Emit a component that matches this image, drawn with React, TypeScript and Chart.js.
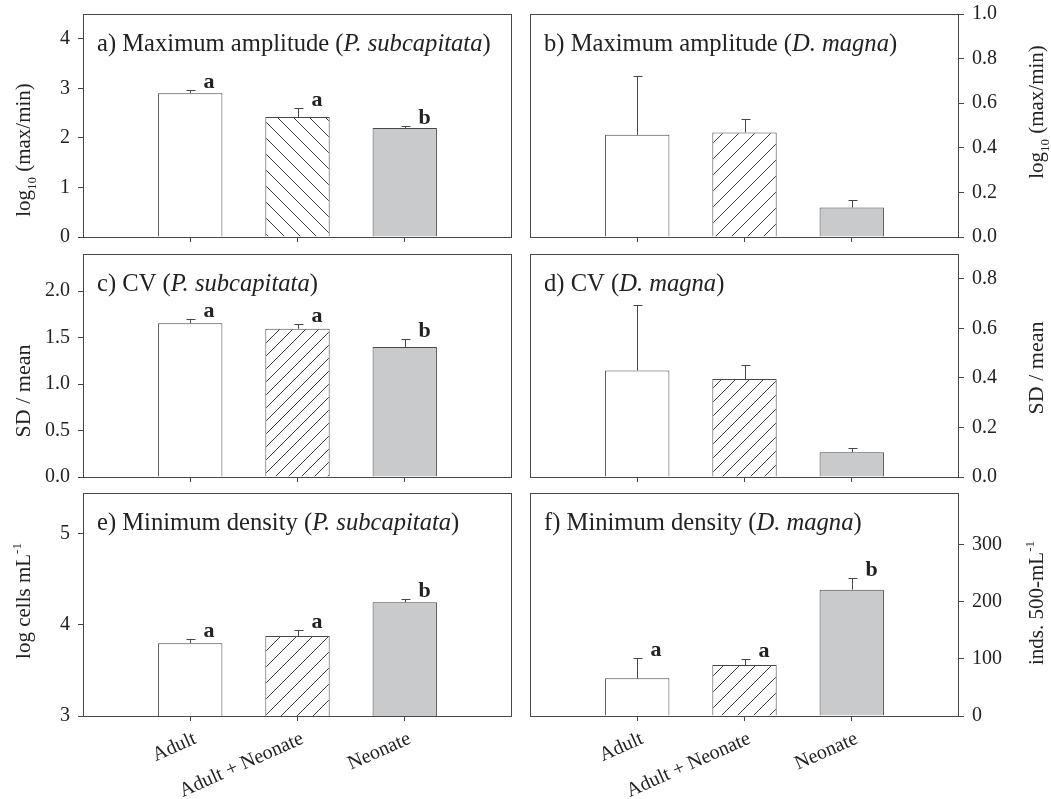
import React, { useEffect, useRef } from 'react';
import { Chart, registerables } from 'chart.js';
Chart.register(...registerables);

const SERIF = '"Liberation Serif", "Times New Roman", Times, serif';
const TEXT = '#222222';
const LINE = '#474747';
const GREY_FILL = '#c9cacc';

// ---------- data ----------
const categories = ['Adult', 'Adult + Neonate', 'Neonate'];

const ampPsValues = [2.9, 2.42, 2.2];
const ampPsErrors = [0.07, 0.18, 0.04];
const ampPsLetters = ['a', 'a', 'b'];
const ampPsTicks = [0, 1, 2, 3, 4];

const ampDmValues = [0.458, 0.469, 0.132];
const ampDmErrors = [0.262, 0.059, 0.034];
const ampDmLetters: string[] = [];
const ampDmTicks = [0, 0.2, 0.4, 0.6, 0.8, 1.0];

const cvPsValues = [1.655, 1.595, 1.4];
const cvPsErrors = [0.045, 0.055, 0.08];
const cvPsLetters = ['a', 'a', 'b'];
const cvPsTicks = [0, 0.5, 1.0, 1.5, 2.0];

const cvDmValues = [0.43, 0.396, 0.1];
const cvDmErrors = [0.266, 0.055, 0.018];
const cvDmLetters: string[] = [];
const cvDmTicks = [0, 0.2, 0.4, 0.6, 0.8];

const minPsValues = [3.8, 3.88, 4.25];
const minPsErrors = [0.05, 0.07, 0.03];
const minPsLetters = ['a', 'a', 'b'];
const minPsTicks = [3, 4, 5];

const minDmValues = [66, 89, 221];
const minDmErrors = [35, 10.5, 20.6];
const minDmLetters = ['a', 'a', 'b'];
const minDmTicks = [0, 100, 200, 300];

type Seg = { t: string; it?: boolean; sub?: boolean; sup?: boolean };

const titleA: Seg[] = [{ t: 'a) Maximum amplitude (' }, { t: 'P. subcapitata', it: true }, { t: ')' }];
const titleB: Seg[] = [{ t: 'b) Maximum amplitude (' }, { t: 'D. magna', it: true }, { t: ')' }];
const titleC: Seg[] = [{ t: 'c) CV (' }, { t: 'P. subcapitata', it: true }, { t: ')' }];
const titleD: Seg[] = [{ t: 'd) CV (' }, { t: 'D. magna', it: true }, { t: ')' }];
const titleE: Seg[] = [{ t: 'e) Minimum density (' }, { t: 'P. subcapitata', it: true }, { t: ')' }];
const titleF: Seg[] = [{ t: 'f) Minimum density (' }, { t: 'D. magna', it: true }, { t: ')' }];

const yTitleAmp: Seg[] = [{ t: 'log' }, { t: '10', sub: true }, { t: ' (max/min)' }];
const yTitleCv: Seg[] = [{ t: 'SD / mean' }];
const yTitleMinPs: Seg[] = [{ t: 'log cells mL' }, { t: '-1', sup: true }];
const yTitleMinDm: Seg[] = [{ t: 'inds. 500-mL' }, { t: '-1', sup: true }];

// ---------- layout ----------
const rowTop = [0, 245, 485];
const rowHeight = [245, 240, 314];
const plotTop = [14, 254, 493];
const plotBottom = [237, 477, 716];
const colLeft = [0, 520];
const colWidth = [520, 531];
const plotLeft = [83, 530];
const plotRight = [512, 959];
const yTitleBaseX = [30, 1043];

type PanelCfg = {
  row: number; col: number;
  values: number[]; errors: number[]; letters: string[];
  yMin: number; yMax: number; yTicks: number[]; decimals: number;
  title: Seg[]; yTitle: Seg[]; yTitleCenter: number; yTitleSize: number;
  hatchDir: '/' | '\\'; hatchGap: number;
};

const panels: PanelCfg[] = [
  { row: 0, col: 0, values: ampPsValues, errors: ampPsErrors, letters: ampPsLetters, yMin: 0, yMax: 4.5, yTicks: ampPsTicks, decimals: 0, title: titleA, yTitle: yTitleAmp, yTitleCenter: 150, yTitleSize: 21, hatchDir: '\\', hatchGap: 16 },
  { row: 0, col: 1, values: ampDmValues, errors: ampDmErrors, letters: ampDmLetters, yMin: 0, yMax: 1.0, yTicks: ampDmTicks, decimals: 1, title: titleB, yTitle: yTitleAmp, yTitleCenter: 112, yTitleSize: 21, hatchDir: '/', hatchGap: 16 },
  { row: 1, col: 0, values: cvPsValues, errors: cvPsErrors, letters: cvPsLetters, yMin: 0, yMax: 2.4, yTicks: cvPsTicks, decimals: 1, title: titleC, yTitle: yTitleCv, yTitleCenter: 391, yTitleSize: 22, hatchDir: '/', hatchGap: 13 },
  { row: 1, col: 1, values: cvDmValues, errors: cvDmErrors, letters: cvDmLetters, yMin: 0, yMax: 0.9, yTicks: cvDmTicks, decimals: 1, title: titleD, yTitle: yTitleCv, yTitleCenter: 368, yTitleSize: 22, hatchDir: '/', hatchGap: 14 },
  { row: 2, col: 0, values: minPsValues, errors: minPsErrors, letters: minPsLetters, yMin: 3, yMax: 5.45, yTicks: minPsTicks, decimals: 0, title: titleE, yTitle: yTitleMinPs, yTitleCenter: 601, yTitleSize: 21, hatchDir: '/', hatchGap: 16 },
  { row: 2, col: 1, values: minDmValues, errors: minDmErrors, letters: minDmLetters, yMin: 0, yMax: 390, yTicks: minDmTicks, decimals: 0, title: titleF, yTitle: yTitleMinDm, yTitleCenter: 603, yTitleSize: 21, hatchDir: '/', hatchGap: 16 },
];

function makeHatch(gap: number, dir: '/' | '\\') {
  const c = document.createElement('canvas');
  c.width = gap; c.height = gap;
  const g = c.getContext('2d')!;
  g.fillStyle = '#ffffff';
  g.fillRect(0, 0, gap, gap);
  g.strokeStyle = '#3a3a3a';
  g.lineWidth = 1;
  g.beginPath();
  if (dir === '/') {
    g.moveTo(-1, gap + 1); g.lineTo(gap + 1, -1);
    g.moveTo(-2, 2); g.lineTo(2, -2);
    g.moveTo(gap - 2, gap + 2); g.lineTo(gap + 2, gap - 2);
  } else {
    g.moveTo(-1, -1); g.lineTo(gap + 1, gap + 1);
    g.moveTo(-2, gap - 2); g.lineTo(2, gap + 2);
    g.moveTo(gap - 2, -2); g.lineTo(gap + 2, 2);
  }
  g.stroke();
  return g.createPattern(c, 'repeat')!;
}

function drawSegs(ctx: CanvasRenderingContext2D, segs: Seg[], x: number, y: number, size: number, align: 'left' | 'center') {
  const parts = segs.map((s) => {
    const sz = s.sub || s.sup ? Math.round(size * 0.64) : size;
    const font = `${s.it ? 'italic ' : ''}${sz}px ${SERIF}`;
    ctx.font = font;
    return { s, font, w: ctx.measureText(s.t).width, dy: s.sub ? size * 0.3 : s.sup ? -size * 0.42 : 0 };
  });
  const total = parts.reduce((a, p) => a + p.w, 0);
  let cx = align === 'center' ? x - total / 2 : x;
  ctx.textAlign = 'left';
  ctx.textBaseline = 'alphabetic';
  for (const p of parts) {
    ctx.font = p.font;
    ctx.fillText(p.s.t, cx, y + p.dy);
    cx += p.w;
  }
}

function Panel({ cfg }: { cfg: PanelCfg }) {
  const ref = useRef<HTMLCanvasElement>(null);
  const w = colWidth[cfg.col];
  const h = rowHeight[cfg.row];
  const left = colLeft[cfg.col];
  const top = rowTop[cfg.row];

  useEffect(() => {
    const canvas = ref.current!;
    const isLeft = cfg.col === 0;
    const isBottom = cfg.row === 2;
    const yAxisWidth = isLeft ? plotLeft[0] - colLeft[0] : colLeft[1] + colWidth[1] - plotRight[1];
    const xAxisHeight = rowTop[cfg.row] + rowHeight[cfg.row] - plotBottom[cfg.row];
    const padTop = plotTop[cfg.row] - rowTop[cfg.row];
    const padLeft = isLeft ? 0 : plotLeft[1] - colLeft[1];
    const padRight = isLeft ? colLeft[0] + colWidth[0] - plotRight[0] : 0;
    const hatch = makeHatch(cfg.hatchGap, cfg.hatchDir);

    const overlay = {
      id: 'overlay',
      afterDatasetsDraw(chart: any) {
        const ctx: CanvasRenderingContext2D = chart.ctx;
        const xs = chart.scales.x;
        const ys = chart.scales.y;
        const ca = chart.chartArea;
        ctx.save();
        // error bars
        ctx.strokeStyle = LINE;
        ctx.lineWidth = 1;
        cfg.values.forEach((v, i) => {
          const x = Math.round(xs.getPixelForValue(i + 1)) + 0.5;
          const y0 = ys.getPixelForValue(v);
          const y1 = Math.round(ys.getPixelForValue(v + cfg.errors[i])) + 0.5;
          ctx.beginPath();
          ctx.moveTo(x, y0);
          ctx.lineTo(x, y1);
          ctx.moveTo(x - 4, y1);
          ctx.lineTo(x + 5, y1);
          ctx.stroke();
          const letter = cfg.letters[i];
          if (letter) {
            ctx.fillStyle = TEXT;
            ctx.font = `bold 22px ${SERIF}`;
            ctx.textAlign = 'left';
            ctx.textBaseline = 'alphabetic';
            ctx.fillText(letter, x + 13, y1 - 3);
          }
        });
        // box
        ctx.strokeStyle = LINE;
        ctx.strokeRect(Math.round(ca.left) + 0.5, Math.round(ca.top) + 0.5, Math.round(ca.right - ca.left) - 1, Math.round(ca.bottom - ca.top) - 0);
        // panel title
        ctx.fillStyle = TEXT;
        drawSegs(ctx, cfg.title, ca.left + 14, ca.top + 37, 24.6, 'left');
        // y-axis title
        ctx.save();
        ctx.translate(yTitleBaseX[cfg.col] - colLeft[cfg.col], cfg.yTitleCenter - rowTop[cfg.row]);
        ctx.rotate(-Math.PI / 2);
        drawSegs(ctx, cfg.yTitle, 0, 0, cfg.yTitleSize, 'center');
        ctx.restore();
        ctx.restore();
      },
    };

    const chart = new Chart(canvas, {
      type: 'bar',
      data: {
        datasets: [
          {
            data: cfg.values.map((v, i) => ({ x: i + 1, y: v })),
            backgroundColor: ['#ffffff', hatch, GREY_FILL],
            borderColor: LINE,
            borderWidth: 1,
            categoryPercentage: 1,
            barPercentage: 0.6,
          } as any,
        ],
      },
      options: {
        responsive: false,
        animation: false,
        devicePixelRatio: 1,
        layout: { padding: { top: padTop, left: padLeft, right: padRight, bottom: 0 } },
        plugins: { legend: { display: false }, tooltip: { enabled: false }, title: { display: false } },
        scales: {
          x: {
            type: 'linear',
            min: 0,
            max: 4,
            offset: false,
            afterBuildTicks: (axis: any) => {
              axis.ticks = categories.map((_, i) => ({ value: i + 1 }));
            },
            afterFit: (s: any) => {
              s.height = xAxisHeight;
              s.paddingLeft = 0;
              s.paddingRight = 0;
            },
            grid: { display: true, offset: false, drawOnChartArea: false, drawTicks: true, tickLength: 5, color: LINE, lineWidth: 1 },
            border: { display: false },
            ticks: {
              display: isBottom,
              autoSkip: false,
              minRotation: 24,
              maxRotation: 24,
              padding: 6,
              labelOffset: 5,
              color: TEXT,
              font: { family: SERIF, size: 20 },
              callback: (v: any) => categories[Number(v) - 1] ?? '',
            },
          },
          y: {
            type: 'linear',
            position: isLeft ? 'left' : 'right',
            min: cfg.yMin,
            max: cfg.yMax,
            afterBuildTicks: (axis: any) => {
              axis.ticks = cfg.yTicks.map((v) => ({ value: v }));
            },
            afterFit: (s: any) => {
              s.width = yAxisWidth;
              s.paddingTop = 0;
              s.paddingBottom = 0;
            },
            grid: { display: true, offset: false, drawOnChartArea: false, drawTicks: true, tickLength: 5, color: LINE, lineWidth: 1 },
            border: { display: false },
            ticks: {
              padding: 8,
              color: TEXT,
              font: { family: SERIF, size: 20 },
              callback: (v: any) => Number(v).toFixed(cfg.decimals),
            },
          },
        },
      },
      plugins: [overlay],
    } as any);
    return () => chart.destroy();
  }, []);

  return (
    <canvas
      ref={ref}
      width={w}
      height={h}
      style={{ position: 'absolute', left, top, width: w, height: h, display: 'block' }}
    />
  );
}

export default function App() {
  return (
    <div style={{ position: 'absolute', left: 0, top: 0, width: 1051, height: 799, background: '#ffffff', overflow: 'hidden' }}>
      {panels.map((p, i) => (
        <Panel key={i} cfg={p} />
      ))}
    </div>
  );
}
